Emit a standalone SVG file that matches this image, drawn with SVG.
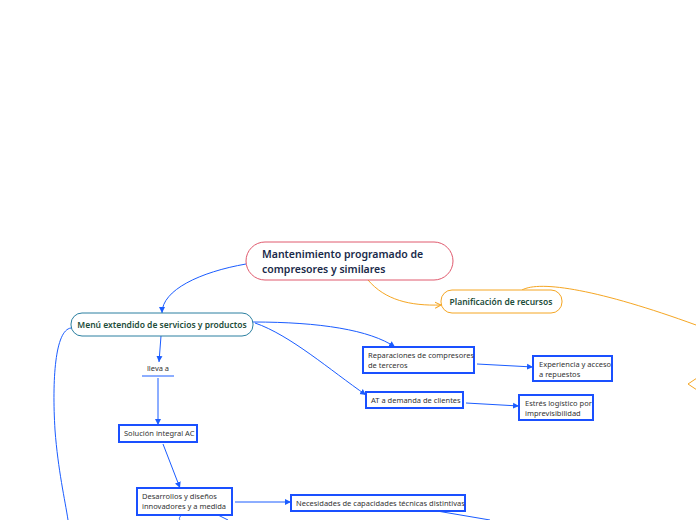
<svg xmlns="http://www.w3.org/2000/svg" width="696" height="520" viewBox="0 0 696 520">
<style>
text{font-family:"Noto Sans","Open Sans",sans-serif;}
.leaf{fill:#fff;stroke:#1a50ff;stroke-width:2;}
.lt{font-size:7.5px;fill:#333;}
.c{fill:none;stroke:#1a5cff;stroke-width:1;}
.o{fill:none;stroke:#f5a623;stroke-width:1;}
</style>
<defs>
<marker id="a" markerWidth="8" markerHeight="8" refX="6" refY="4" orient="auto" markerUnits="userSpaceOnUse"><path d="M0,1 L6,4 L0,7 Z" fill="#1a5cff"/></marker>
<marker id="ao" markerWidth="8" markerHeight="8" refX="6" refY="4" orient="auto" markerUnits="userSpaceOnUse"><path d="M0,1 L6,4 L0,7" fill="none" stroke="#f5a623"/></marker>
</defs>
<rect width="696" height="520" fill="#fff"/>
<g id="connectors">
<path class="c" d="M246,264 C200,272 162,290 162,313" marker-end="url(#a)"/>
<path class="o" d="M368,280 C385,300 410,306 441,305" marker-end="url(#ao)"/>
<path class="o" d="M522,290 C540,280 600,290 696,325"/>
<polyline class="o" points="697,378 688,384 697,390" stroke-width="1.5"/>
<path class="c" d="M161,336 L159,362" marker-end="url(#a)"/>
<path class="c" d="M158,378 L158,425" marker-end="url(#a)"/>
<path class="c" d="M163,444 L180,488" marker-end="url(#a)"/>
<path class="c" d="M235,502 L291,502" marker-end="url(#a)"/>
<path class="c" d="M437,511 L490,520"/>
<path class="c" d="M182,515 C179,517 179,519 180,520"/>
<path class="c" d="M218,515 L228,520"/>
<path class="c" d="M253,322 C320,322 370,330 395,347" marker-end="url(#a)"/>
<path class="c" d="M255,323 C290,335 330,370 366,395" marker-end="url(#a)"/>
<path class="c" d="M477,364 L533,367" marker-end="url(#a)"/>
<path class="c" d="M466,403 L519,406" marker-end="url(#a)"/>
<path class="c" d="M71,328 C55,330 52,380 55,430 C58,470 65,500 68,520"/>
</g>
<g id="main">
<rect x="246" y="242" width="207" height="38" rx="19" fill="#fff" stroke="#e05a6e"/>
<text x="262" y="258" font-size="10.5" font-weight="600" fill="#1a2a4a">Mantenimiento programado de</text>
<text x="262" y="273" font-size="10.5" font-weight="600" fill="#1a2a4a">compresores y similares</text>
</g>
<g id="menu">
<rect x="71" y="313" width="182" height="23" rx="11" fill="#fff" stroke="#2a7fa0"/>
<text x="162" y="328" font-size="8.5" font-weight="600" fill="#1d4d3a" text-anchor="middle">Menú extendido de servicios y productos</text>
</g>
<g id="planificacion">
<rect x="441" y="290" width="121" height="23" rx="11" fill="#fff" stroke="#f5a623"/>
<text x="501" y="305" font-size="8.5" font-weight="600" fill="#1d4d3a" text-anchor="middle">Planificación de recursos</text>
</g>
<g id="lleva">
<text x="158" y="371" class="lt" text-anchor="middle">lleva a</text>
<line x1="142" y1="376" x2="174" y2="376" stroke="#1a5cff"/>
</g>
<g id="solucion"><rect class="leaf" x="119" y="425" width="78" height="17"/><text class="lt" x="124" y="436">Solución integral AC</text></g>
<g id="desarrollos"><rect class="leaf" x="137" y="488" width="95" height="27"/><text class="lt" x="142" y="499">Desarrollos y diseños</text><text class="lt" x="142" y="509">innovadores y a medida</text></g>
<g id="necesidades"><rect class="leaf" x="291" y="495" width="174" height="16"/><text class="lt" x="296" y="506">Necesidades de capacidades técnicas distintivas</text></g>
<g id="reparaciones"><rect class="leaf" x="363" y="347" width="111" height="26"/><text class="lt" x="368" y="358">Reparaciones de compresores</text><text class="lt" x="368" y="368">de terceros</text></g>
<g id="experiencia"><rect class="leaf" x="533" y="356" width="79" height="25"/><text class="lt" x="539" y="367">Experiencia y acceso</text><text class="lt" x="539" y="377">a repuestos</text></g>
<g id="at"><rect class="leaf" x="366" y="392" width="97" height="16"/><text class="lt" x="371" y="403">AT a demanda de clientes</text></g>
<g id="estres"><rect class="leaf" x="519" y="395" width="74" height="25"/><text class="lt" x="525" y="406">Estrés logístico por</text><text class="lt" x="525" y="416">imprevisibilidad</text></g>
</svg>
